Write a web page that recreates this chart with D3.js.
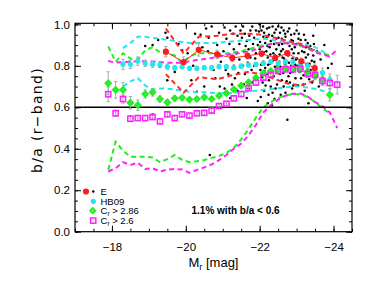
<!DOCTYPE html>
<html>
<head>
<meta charset="utf-8">
<style>
  body { margin: 0; background: #fff; }
  text { font-family: "Liberation Sans", Arial, sans-serif; fill: #000; }
</style>
</head>
<body>
<script src="https://cdn.jsdelivr.net/npm/d3@7"></script>
<script>
// ---- data ----
var magsC26 = [-17.9,-18.1,-18.3,-18.5,-18.7,-18.9,-19.1,-19.3,-19.5,-19.7,-19.9,-20.1,-20.3,-20.5,-20.7,-20.9,
               -21.1,-21.3,-21.5,-21.7,-21.9,-22.1,-22.3,-22.5,-22.7,-22.9,-23.1,-23.3,-23.5,-23.7,-23.9,-24.1];
var c26Med = [0.663,0.571,0.640,0.545,0.548,0.548,0.553,0.532,0.566,0.548,0.566,0.560,0.571,0.573,0.584,0.606,
              0.617,0.643,0.664,0.692,0.719,0.743,0.756,0.775,0.783,0.783,0.786,0.761,0.756,0.727,0.717,0.709];
var c26Err = [0.035,0.015,0.02,0.015,0.012,0.012,0.01,0.01,0.01,0.01,0.01,0.01,0.01,0.01,0.01,0.01,
              0.01,0.01,0.01,0.01,0.01,0.01,0.01,0.01,0.01,0.012,0.013,0.015,0.018,0.022,0.03,0.045];
var c26Up = [0.823,0.815,0.818,0.820,0.822,0.822,0.820,0.818,0.815,0.815,0.815,0.822,0.828,0.833,0.838,0.845,
             0.852,0.858,0.862,0.868,0.880,0.895,0.905,0.910,0.909,0.905,0.900,0.885,0.865,0.855,0.845,0.878];
var c26Lo = [0.290,0.306,0.335,0.322,0.333,0.302,0.306,0.290,0.300,0.302,0.300,0.284,0.298,0.310,0.325,0.345,
             0.370,0.400,0.425,0.465,0.515,0.575,0.610,0.637,0.656,0.665,0.667,0.652,0.625,0.605,0.575,0.500];

var magsC286 = [-17.9,-18.1,-18.3,-18.5,-18.7,-18.9,-19.1,-19.3,-19.5,-19.7,-19.9,-20.1,-20.3,-20.5,-20.7,-20.9,
                -21.1,-21.3,-21.5,-21.7,-21.9,-22.1,-22.3,-22.5,-22.7,-22.9,-23.1,-23.3,-23.5,-23.7,-23.9];
var c286Med = [0.716,0.684,0.684,0.622,0.610,0.664,0.672,0.640,0.624,0.643,0.646,0.637,0.640,0.648,0.640,0.656,
               0.668,0.686,0.704,0.720,0.742,0.764,0.775,0.783,0.791,0.788,0.785,0.772,0.753,0.732,0.660];
var c286Err = [0.055,0.04,0.035,0.03,0.025,0.02,0.018,0.015,0.013,0.012,0.011,0.01,0.01,0.01,0.01,0.01,
               0.01,0.01,0.01,0.01,0.01,0.01,0.01,0.01,0.012,0.013,0.015,0.017,0.02,0.023,0.03];
var c286Up = [0.893,0.820,0.860,0.835,0.830,0.875,0.890,0.865,0.860,0.850,0.815,0.845,0.860,0.860,0.860,0.855,
              0.860,0.865,0.870,0.880,0.890,0.900,0.905,0.910,0.910,0.905,0.895,0.885,0.870,0.860,0.850];
var c286Lo = [0.298,0.434,0.390,0.362,0.362,0.362,0.358,0.335,0.350,0.370,0.346,0.335,0.340,0.346,0.356,0.365,
              0.380,0.405,0.445,0.495,0.550,0.600,0.625,0.645,0.658,0.663,0.663,0.650,0.625,0.595,0.570];

var magsHB = [-18.3,-18.5,-18.7,-18.9,-19.1,-19.3,-19.5,-19.7,-19.9,-20.1,-20.3,-20.5,-20.7,-20.9,
              -21.1,-21.3,-21.5,-21.7,-21.9,-22.1,-22.3,-22.5,-22.7,-22.9,-23.1,-23.3,-23.5,-23.7,-23.9];
var hbMed = [0.807,0.807,0.823,0.812,0.808,0.806,0.796,0.790,0.796,0.788,0.788,0.791,0.790,0.796,
             0.796,0.791,0.798,0.804,0.807,0.812,0.820,0.812,0.820,0.820,0.807,0.800,0.780,0.767,0.732];
var hbErr = [0.025,0.02,0.02,0.015,0.015,0.012,0.012,0.01,0.01,0.01,0.01,0.01,0.01,0.01,
             0.01,0.01,0.01,0.01,0.01,0.01,0.01,0.01,0.01,0.01,0.012,0.015,0.018,0.022,0.028];
var hbUp = [0.885,0.910,0.940,0.940,0.935,0.930,0.925,0.920,0.915,0.910,0.910,0.910,0.910,0.912,
            0.915,0.918,0.922,0.925,0.928,0.930,0.928,0.920,0.915,0.910,0.905,0.900,0.890,0.870,0.840];
var hbLo = [0.700,0.725,0.740,0.705,0.685,0.690,0.690,0.685,0.680,0.675,0.673,0.672,0.670,0.668,
            0.668,0.670,0.673,0.676,0.680,0.684,0.688,0.692,0.696,0.700,0.700,0.695,0.688,0.680,0.668];

var magsE = [-19.46,-19.94,-20.35,-20.85,-21.26,-21.67,-22.05,-22.42,-22.75,-23.13,-23.49];
var eMed = [0.868,0.818,0.877,0.855,0.838,0.848,0.859,0.838,0.861,0.822,0.789];
var eErr = [0.025,0.025,0.03,0.02,0.018,0.015,0.012,0.012,0.012,0.015,0.02];
var eUp = [0.980,0.860,0.940,0.945,0.955,0.955,0.950,0.935,0.920,0.905,0.875];
var eLo = [0.760,0.670,0.745,0.735,0.755,0.770,0.760,0.735,0.715,0.705,0.730];

// individual E galaxies [Mr, b/a]
var eDots = [
  [-18.9,0.895],[-19.1,0.90],[-19.25,0.925],[-19.5,0.935],[-19.3,0.795],[-19.5,0.73],[-19.7,0.77],[-19.1,0.565],
  [-19.45,0.96],[-19.8,0.905],[-19.9,0.875],
  [-20.05,0.86],[-20.2,0.80],[-20.3,0.675],[-20.35,0.91],[-20.4,0.95],[-20.55,0.98],[-20.7,0.99],[-20.65,0.37],
  [-20.8,0.74],[-20.6,0.87],[-20.9,0.96],[-20.95,0.82],[-20.5,0.70],[-20.15,0.73],[-20.85,0.90],[-20.75,0.78],
  [-20.92,0.70],[-20.62,0.935],[-20.45,0.89],[-20.25,0.955],
  [-21.05,0.985],[-21.1,0.93],[-21.2,0.97],[-21.3,0.88],[-21.35,0.99],[-21.4,0.945],[-21.15,0.76],[-21.25,0.71],
  [-21.45,0.83],[-21.05,0.69],[-21.4,0.68],[-21.3,0.80],[-21.45,0.905],[-21.2,0.645],
  [-21.02,0.87],[-21.08,0.78],[-21.18,0.905],[-21.22,0.84],[-21.28,0.955],[-21.33,0.74],[-21.38,0.86],
  [-21.42,0.765],[-21.48,0.97],
  [-21.55,0.99],[-21.6,0.955],[-21.65,0.92],[-21.7,0.88],[-21.75,0.84],[-21.8,0.99],[-21.85,0.935],[-21.9,0.97],
  [-21.55,0.80],[-21.6,0.76],[-21.7,0.69],[-21.8,0.72],[-21.9,0.86],[-21.95,0.90],[-21.65,0.645],[-21.85,0.80],
  [-21.95,0.63],[-21.75,0.97],[-21.58,0.87],
  [-21.52,0.935],[-21.62,0.895],[-21.68,0.815],[-21.72,0.945],[-21.78,0.78],[-21.82,0.905],[-21.88,0.835],
  [-21.92,0.745],[-21.98,0.965],[-21.57,0.71],
  [-22.0,1.0],[-22.05,0.97],[-22.1,0.94],[-22.15,0.91],[-22.2,0.98],[-22.25,0.95],[-22.3,0.92],[-22.35,0.99],
  [-22.4,0.96],[-22.45,0.93],[-22.0,0.88],[-22.05,0.85],[-22.1,0.82],[-22.15,0.79],[-22.2,0.76],[-22.25,0.73],
  [-22.3,0.70],[-22.35,0.67],[-22.4,0.64],[-22.45,0.88],[-22.02,0.78],[-22.08,0.72],[-22.12,0.68],[-22.18,0.87],
  [-22.22,0.84],[-22.28,0.81],[-22.32,0.78],[-22.38,0.75],[-22.42,0.85],[-22.48,0.80],[-22.12,0.96],[-22.27,0.89],
  [-22.37,0.86],[-22.47,0.71],[-22.03,0.65],[-22.33,0.61],[-22.22,0.62],
  [-22.01,0.915],[-22.04,0.805],[-22.06,0.745],[-22.09,0.99],[-22.11,0.865],[-22.13,0.775],[-22.16,0.705],
  [-22.19,0.935],[-22.21,0.895],[-22.23,0.805],[-22.24,0.66],[-22.26,0.985],[-22.29,0.855],[-22.31,0.745],
  [-22.34,0.945],[-22.36,0.825],[-22.39,0.905],[-22.41,0.795],[-22.43,0.69],[-22.44,0.975],[-22.46,0.845],
  [-22.49,0.765],
  [-22.5,0.99],[-22.55,0.96],[-22.6,0.93],[-22.65,0.97],[-22.7,0.94],[-22.75,0.91],[-22.8,0.98],[-22.85,0.95],
  [-22.9,0.92],[-22.95,0.89],[-22.52,0.90],[-22.58,0.87],[-22.62,0.84],[-22.68,0.81],[-22.72,0.78],[-22.78,0.75],
  [-22.82,0.72],[-22.88,0.69],[-22.92,0.86],[-22.98,0.83],[-22.55,0.76],[-22.6,0.73],[-22.65,0.70],[-22.7,0.67],
  [-22.75,0.54],[-22.85,0.80],[-22.9,0.77],[-22.53,0.82],[-22.63,0.88],[-22.77,0.85],[-22.87,0.88],[-22.97,0.74],
  [-22.57,0.66],[-22.67,0.91],
  [-22.51,0.935],[-22.54,0.855],[-22.56,0.795],[-22.59,0.985],[-22.61,0.905],[-22.64,0.765],[-22.66,0.835],
  [-22.69,0.955],[-22.71,0.865],[-22.73,0.725],[-22.76,0.965],[-22.79,0.815],[-22.81,0.895],[-22.83,0.765],
  [-22.86,0.925],[-22.89,0.835],[-22.91,0.705],[-22.94,0.955],[-22.96,0.805],[-22.99,0.905],
  [-23.0,0.97],[-23.05,0.93],[-23.1,0.90],[-23.15,0.87],[-23.2,0.95],[-23.25,0.84],[-23.3,0.91],[-23.35,0.81],
  [-23.4,0.88],[-23.45,0.85],[-23.02,0.80],[-23.08,0.77],[-23.12,0.74],[-23.18,0.71],[-23.22,0.68],[-23.28,0.75],
  [-23.32,0.62],[-23.38,0.78],[-23.42,0.72],[-23.48,0.82],[-23.05,0.86],[-23.15,0.82],[-23.25,0.89],[-23.45,0.945],
  [-23.01,0.835],[-23.04,0.705],[-23.06,0.955],[-23.09,0.815],[-23.11,0.925],[-23.14,0.785],[-23.16,0.895],
  [-23.19,0.755],[-23.21,0.865],[-23.24,0.925],[-23.27,0.805],[-23.31,0.855],[-23.34,0.735],[-23.37,0.895],
  [-23.41,0.825],[-23.44,0.765],[-23.47,0.905],
  [-23.55,0.87],[-23.65,0.83],[-23.7,0.76],[-23.75,0.90],[-23.85,0.79],[-23.95,0.81],[-23.6,0.70]
];

var xMajor = [-18, -20, -22, -24];
var yMajor = [0, 0.2, 0.4, 0.6, 0.8, 1.0];
var cutLine = 0.6;

// ---- layout ----
var totalWidth = 374, totalHeight = 281;
var plot = { left: 75, right: 352, top: 23.3, bottom: 231.7 };

var x = d3.scaleLinear().domain([-17, -24.5]).range([plot.left, plot.right]);
var y = d3.scaleLinear().domain([0, 1.005]).range([plot.bottom, plot.top]);

var svg = d3.select('body').append('svg')
    .attr('width', totalWidth)
    .attr('height', totalHeight);

svg.append('clipPath').attr('id', 'clip')
    .append('rect')
    .attr('x', plot.left).attr('y', plot.top)
    .attr('width', plot.right - plot.left).attr('height', plot.bottom - plot.top);

var g = svg.append('g').attr('clip-path', 'url(#clip)');

function zip(ms, vs) {
    return ms.map(function (m, i) { return [m, vs[i]]; });
}

var line = d3.line()
    .x(function (d) { return x(d[0]); })
    .y(function (d) { return y(d[1]); });

// scatter of individual galaxies
g.selectAll('circle.dot')
    .data(eDots)
    .enter().append('circle')
    .attr('class', 'dot')
    .attr('cx', function (d) { return x(d[0]); })
    .attr('cy', function (d) { return y(d[1]); })
    .attr('r', 1.25)
    .attr('fill', '#000');

// dashed envelopes
var envelopes = [
    { m: magsHB, v: hbUp, c: '#22e6f0' }, { m: magsHB, v: hbLo, c: '#22e6f0' },
    { m: magsC286, v: c286Up, c: '#22ee22' }, { m: magsC286, v: c286Lo, c: '#22ee22' },
    { m: magsC26, v: c26Up, c: '#ff22ff' }, { m: magsC26, v: c26Lo, c: '#ff22ff' },
    { m: magsE, v: eUp, c: '#ff2a2a' }, { m: magsE, v: eLo, c: '#ff2a2a' }
];
envelopes.forEach(function (e) {
    g.append('path')
        .datum(zip(e.m, e.v))
        .attr('d', line)
        .attr('fill', 'none')
        .attr('stroke', e.c)
        .attr('stroke-width', 2)
        .attr('stroke-dasharray', '5,3.5');
});

// 0.6 cut
g.append('line')
    .attr('x1', plot.left).attr('x2', plot.right)
    .attr('y1', y(cutLine)).attr('y2', y(cutLine))
    .attr('stroke', '#000').attr('stroke-width', 1.4);

// error bars
function errorBars(ms, vs, es) {
    var grp = g.append('g').attr('stroke', '#a8a8a8').attr('stroke-width', 1);
    ms.forEach(function (m, i) {
        var cx = x(m), y0 = y(vs[i] - es[i]), y1 = y(vs[i] + es[i]);
        grp.append('line').attr('x1', cx).attr('x2', cx).attr('y1', y0).attr('y2', y1);
        grp.append('line').attr('x1', cx - 1.6).attr('x2', cx + 1.6).attr('y1', y0).attr('y2', y0);
        grp.append('line').attr('x1', cx - 1.6).attr('x2', cx + 1.6).attr('y1', y1).attr('y2', y1);
    });
}
errorBars(magsHB, hbMed, hbErr);
errorBars(magsC286, c286Med, c286Err);
errorBars(magsC26, c26Med, c26Err);
errorBars(magsE, eMed, eErr);

// E median line
g.append('path')
    .datum(zip(magsE, eMed))
    .attr('d', line)
    .attr('fill', 'none')
    .attr('stroke', '#ff2a2a')
    .attr('stroke-width', 1);

var diamond = d3.symbol().type(d3.symbolSquare).size(11);

g.selectAll('circle.hb')
    .data(zip(magsHB, hbMed))
    .enter().append('circle')
    .attr('class', 'hb')
    .attr('cx', function (d) { return x(d[0]); })
    .attr('cy', function (d) { return y(d[1]); })
    .attr('r', 2.6)
    .attr('fill', '#22e6f0');

g.selectAll('path.c286')
    .data(zip(magsC286, c286Med))
    .enter().append('path')
    .attr('class', 'c286')
    .attr('d', diamond)
    .attr('transform', function (d) { return 'translate(' + x(d[0]) + ',' + y(d[1]) + ') rotate(45)'; })
    .attr('fill', 'none')
    .attr('stroke', '#22ee22')
    .attr('stroke-width', 2.5);

g.selectAll('rect.c26')
    .data(zip(magsC26, c26Med))
    .enter().append('rect')
    .attr('class', 'c26')
    .attr('x', function (d) { return x(d[0]) - 2.6; })
    .attr('y', function (d) { return y(d[1]) - 2.6; })
    .attr('width', 5.2).attr('height', 5.2)
    .attr('fill', 'none')
    .attr('stroke', '#ff22ff')
    .attr('stroke-width', 1.5);

g.selectAll('circle.e')
    .data(zip(magsE, eMed))
    .enter().append('circle')
    .attr('class', 'e')
    .attr('cx', function (d) { return x(d[0]); })
    .attr('cy', function (d) { return y(d[1]); })
    .attr('r', 3.1)
    .attr('fill', '#ff1a1a');

// ---- axes ----
function styleAxis(nodes) {
    nodes.selectAll('.domain').remove();
    nodes.selectAll('.tick line').attr('stroke', '#000').attr('stroke-width', 1);
    nodes.selectAll('.tick text').style('font-size', '11.5px')
        .style('font-family', '"Liberation Sans", Arial, sans-serif');
}
var xMinor = d3.range(-17, -24.51, -0.5);
var yMinor = d3.range(0, 1.001, 0.05);

[['bottom', plot.bottom], ['top', plot.top]].forEach(function (p) {
    var ax = p[0] === 'bottom' ? d3.axisBottom(x) : d3.axisTop(x);
    var minor = svg.append('g').attr('transform', 'translate(0,' + p[1] + ')')
        .call(ax.tickValues(xMinor).tickSize(-3).tickFormat(''));
    styleAxis(minor);
    var ax2 = p[0] === 'bottom' ? d3.axisBottom(x) : d3.axisTop(x);
    var major = svg.append('g').attr('transform', 'translate(0,' + p[1] + ')')
        .call(ax2.tickValues(xMajor).tickSize(-6).tickPadding(11)
            .tickFormat(p[0] === 'bottom' ? function (d) { return '\u2212' + Math.abs(d); } : ''));
    styleAxis(major);
});

[['left', plot.left], ['right', plot.right]].forEach(function (p) {
    var ax = p[0] === 'left' ? d3.axisLeft(y) : d3.axisRight(y);
    var minor = svg.append('g').attr('transform', 'translate(' + p[1] + ',0)')
        .call(ax.tickValues(yMinor).tickSize(-3).tickFormat(''));
    styleAxis(minor);
    var ax2 = p[0] === 'left' ? d3.axisLeft(y) : d3.axisRight(y);
    var major = svg.append('g').attr('transform', 'translate(' + p[1] + ',0)')
        .call(ax2.tickValues(yMajor).tickSize(-6).tickPadding(5)
            .tickFormat(p[0] === 'left' ? d3.format('.1f') : ''));
    styleAxis(major);
});

svg.append('rect')
    .attr('x', plot.left).attr('y', plot.top)
    .attr('width', plot.right - plot.left).attr('height', plot.bottom - plot.top)
    .attr('fill', 'none').attr('stroke', '#000').attr('stroke-width', 1.2);

// axis titles
var xt = svg.append('text')
    .attr('x', (plot.left + plot.right) / 2).attr('y', 267)
    .attr('text-anchor', 'middle')
    .style('font-size', '13px');
xt.append('tspan').text('M');
xt.append('tspan').attr('dy', 3).style('font-size', '9px').text('r');
xt.append('tspan').attr('dy', -3).text(' [mag]');

svg.append('text')
    .attr('transform', 'translate(42,120) rotate(-90)')
    .attr('text-anchor', 'middle')
    .style('font-size', '14px')
    .style('font-family', '"DejaVu Sans", sans-serif')
    .style('letter-spacing', '1.3px')
    .text('b/a (r\u2212band)');

// legend
var legend = svg.append('g').style('font-size', '9.5px');
legend.append('circle').attr('cx', 86).attr('cy', 191.5).attr('r', 3.1).attr('fill', '#ff1a1a');
legend.append('circle').attr('cx', 93.3).attr('cy', 191.5).attr('r', 1.25).attr('fill', '#000');
legend.append('text').attr('x', 100.5).attr('y', 194.8).text('E');
legend.append('circle').attr('cx', 93.3).attr('cy', 201.3).attr('r', 2.6).attr('fill', '#22e6f0');
legend.append('text').attr('x', 100.5).attr('y', 204.5).text('HB09');
legend.append('path').attr('d', diamond)
    .attr('transform', 'translate(92.8,210.7) rotate(45)')
    .attr('fill', 'none').attr('stroke', '#22ee22').attr('stroke-width', 2.2);
var l3 = legend.append('text').attr('x', 100.5).attr('y', 214);
l3.append('tspan').text('C');
l3.append('tspan').attr('dy', 2).style('font-size', '6.5px').text('r');
l3.append('tspan').attr('dy', -2).text(' > 2.86');
legend.append('rect').attr('x', 90.6).attr('y', 218).attr('width', 5.2).attr('height', 5.2)
    .attr('fill', 'none').attr('stroke', '#ff22ff').attr('stroke-width', 1.5);
var l4 = legend.append('text').attr('x', 100.5).attr('y', 224);
l4.append('tspan').text('C');
l4.append('tspan').attr('dy', 2).style('font-size', '6.5px').text('r');
l4.append('tspan').attr('dy', -2).text(' > 2.6');

svg.append('text')
    .attr('x', 191.5).attr('y', 214.3)
    .style('font-size', '10px').style('font-weight', 'bold')
    .text('1.1% with b/a < 0.6');
</script>
</body>
</html>
